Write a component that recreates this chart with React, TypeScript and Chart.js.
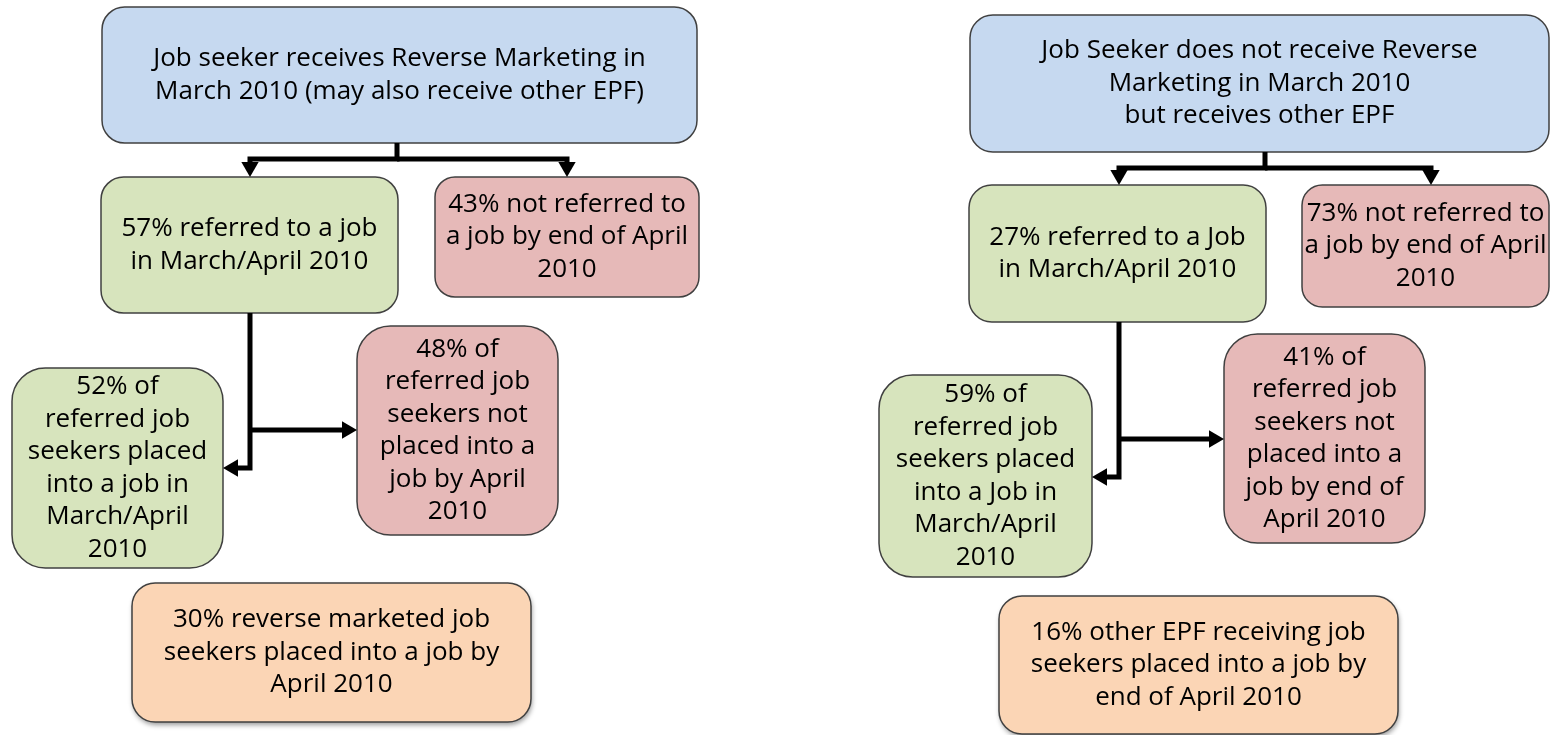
import React, { useEffect, useRef } from 'react';
import { Chart, registerables } from 'chart.js';

Chart.register(...registerables);

// ---------- data ----------
const leftPct = [57, 43, 52, 48, 30];
const rightPct = [27, 73, 59, 41, 16];

const leftLines: string[][] = [
  ['Job seeker receives Reverse Marketing in', 'March 2010 (may also receive other EPF)'],
  [`${leftPct[0]}% referred to a job`, 'in March/April 2010'],
  [`${leftPct[1]}% not referred to`, 'a job by end of April', '2010'],
  [`${leftPct[2]}% of`, 'referred job', 'seekers placed', 'into a job in', 'March/April', '2010'],
  [`${leftPct[3]}% of`, 'referred job', 'seekers not', 'placed into a', 'job by April', '2010'],
  [`${leftPct[4]}% reverse marketed job`, 'seekers placed into a job by', 'April 2010'],
];

const rightLines: string[][] = [
  ['Job Seeker does not receive Reverse', 'Marketing in March 2010', 'but receives other EPF'],
  [`${rightPct[0]}% referred to a Job`, 'in March/April 2010'],
  [`${rightPct[1]}% not referred to`, 'a job by end of April', '2010'],
  [`${rightPct[2]}% of`, 'referred job', 'seekers placed', 'into a Job in', 'March/April', '2010'],
  [`${rightPct[3]}% of`, 'referred job', 'seekers not', 'placed into a', 'job by end of', 'April 2010'],
  [`${rightPct[4]}% other EPF receiving job`, 'seekers placed into a job by', 'end of April 2010'],
];

const boxKinds = ['root', 'yes', 'no', 'yes', 'no', 'total'];

// ---------- layout (chart units = pixels of a 1550x735 frame) ----------
const leftRects = [
  [102, 7, 697, 143],
  [101, 177, 398, 313],
  [435, 177, 699, 297],
  [12, 368, 223, 568],
  [357, 326, 558, 535],
  [132, 583, 531, 722],
];
const rightRects = [
  [970, 15, 1549, 152],
  [969, 185, 1266, 322],
  [1302, 185, 1549, 307],
  [879, 375, 1092, 577],
  [1224, 334, 1425, 543],
  [999, 596, 1398, 734],
];

const leftConnectors = [
  [[397, 143], [397, 159], [250, 159], [250, 177]],
  [[397, 159], [567, 159], [567, 177]],
  [[250, 313], [250, 468], [223, 468]],
  [[250, 430], [357, 430]],
];
const rightConnectors = [
  [[1265, 152], [1265, 168], [1119, 168], [1119, 185]],
  [[1265, 168], [1431, 168], [1431, 185]],
  [[1119, 322], [1119, 477], [1092, 477]],
  [[1119, 439], [1224, 439]],
];

// ---------- styles ----------
const kindFill: Record<string, string> = {
  root: '#c6d9f0',
  yes: '#d7e4bd',
  no: '#e6b9b8',
  total: '#fbd5b5',
};
const BORDER = '#404040';
const FONT = '26px "Open Sans", Lato, sans-serif';
const LINE_H = 32.5;
const ARROW_R = 10;

type Box = { rect: number[]; lines: string[]; kind: string };
const boxes: Box[] = [
  ...leftRects.map((r, i) => ({ rect: r, lines: leftLines[i], kind: boxKinds[i] })),
  ...rightRects.map((r, i) => ({ rect: r, lines: rightLines[i], kind: boxKinds[i] })),
];

function connectorDataset(pts: number[][]) {
  const n = pts.length;
  const [tx, ty] = pts[n - 1];
  const [px, py] = pts[n - 2];
  const dx = Math.sign(tx - px);
  const dy = Math.sign(ty - py);
  const data = pts.slice(0, n - 1).map(([x, y]) => ({ x, y }));
  data.push({ x: tx - dx * ARROW_R, y: ty - dy * ARROW_R });
  let rot = 0;
  if (dy > 0) rot = 180;
  else if (dy < 0) rot = 0;
  else if (dx > 0) rot = 90;
  else rot = 270;
  return {
    data,
    showLine: true,
    borderColor: '#000',
    borderWidth: 5,
    borderJoinStyle: 'miter' as const,
    borderCapStyle: 'butt' as const,
    pointRadius: data.map((_, i) => (i === data.length - 1 ? ARROW_R : 0)),
    pointHoverRadius: data.map((_, i) => (i === data.length - 1 ? ARROW_R : 0)),
    pointStyle: 'triangle' as const,
    pointRotation: rot,
    pointBackgroundColor: '#000',
    pointBorderWidth: 0,
    clip: false as const,
  };
}

function roundRectPath(ctx: CanvasRenderingContext2D, x0: number, y0: number, x1: number, y1: number, r: number) {
  ctx.beginPath();
  ctx.moveTo(x0 + r, y0);
  ctx.lineTo(x1 - r, y0);
  ctx.arcTo(x1, y0, x1, y0 + r, r);
  ctx.lineTo(x1, y1 - r);
  ctx.arcTo(x1, y1, x1 - r, y1, r);
  ctx.lineTo(x0 + r, y1);
  ctx.arcTo(x0, y1, x0, y1 - r, r);
  ctx.lineTo(x0, y0 + r);
  ctx.arcTo(x0, y0, x0 + r, y0, r);
  ctx.closePath();
}

const boxPlugin = {
  id: 'flowBoxes',
  beforeDatasetsDraw(chart: any) {
    const { ctx } = chart;
    const xs = chart.scales.x;
    const ys = chart.scales.y;
    boxes.forEach((b) => {
      const x0 = xs.getPixelForValue(b.rect[0]);
      const x1 = xs.getPixelForValue(b.rect[2]);
      const y0 = ys.getPixelForValue(b.rect[1]);
      const y1 = ys.getPixelForValue(b.rect[3]);
      const r = Math.min(x1 - x0, y1 - y0) / 6;
      ctx.save();
      if (b.kind === 'total') {
        ctx.shadowColor = 'rgba(0,0,0,0.4)';
        ctx.shadowBlur = 5;
        ctx.shadowOffsetX = 1;
        ctx.shadowOffsetY = 3;
      }
      roundRectPath(ctx, x0, y0, x1, y1, r);
      ctx.fillStyle = kindFill[b.kind];
      ctx.fill();
      ctx.restore();
      ctx.save();
      roundRectPath(ctx, x0, y0, x1, y1, r);
      ctx.strokeStyle = BORDER;
      ctx.lineWidth = 1.5;
      ctx.stroke();
      ctx.fillStyle = '#000';
      ctx.font = FONT;
      ctx.textAlign = 'center';
      ctx.textBaseline = 'middle';
      const cx = (x0 + x1) / 2;
      const cy = (y0 + y1) / 2;
      const n = b.lines.length;
      b.lines.forEach((line, i) => {
        ctx.fillText(line, cx, cy + (i - (n - 1) / 2) * LINE_H);
      });
      ctx.restore();
    });
  },
};

export default function App() {
  const ref = useRef<HTMLCanvasElement | null>(null);
  useEffect(() => {
    if (!ref.current) return;
    const chart = new Chart(ref.current, {
      type: 'scatter',
      data: {
        datasets: [...leftConnectors, ...rightConnectors].map(connectorDataset) as any,
      },
      options: {
        animation: false,
        responsive: true,
        maintainAspectRatio: false,
        events: [],
        layout: { padding: 0, autoPadding: false },
        scales: {
          x: { type: 'linear', min: 0, max: 1550, display: false },
          y: { type: 'linear', min: 0, max: 735, reverse: true, display: false },
        },
        plugins: { legend: { display: false }, tooltip: { enabled: false } },
      },
      plugins: [boxPlugin],
    });
    return () => chart.destroy();
  }, []);
  return (
    <div style={{ position: 'absolute', left: 0, top: 0, width: 1550, height: 735, background: '#fff' }}>
      <canvas ref={ref} />
    </div>
  );
}
